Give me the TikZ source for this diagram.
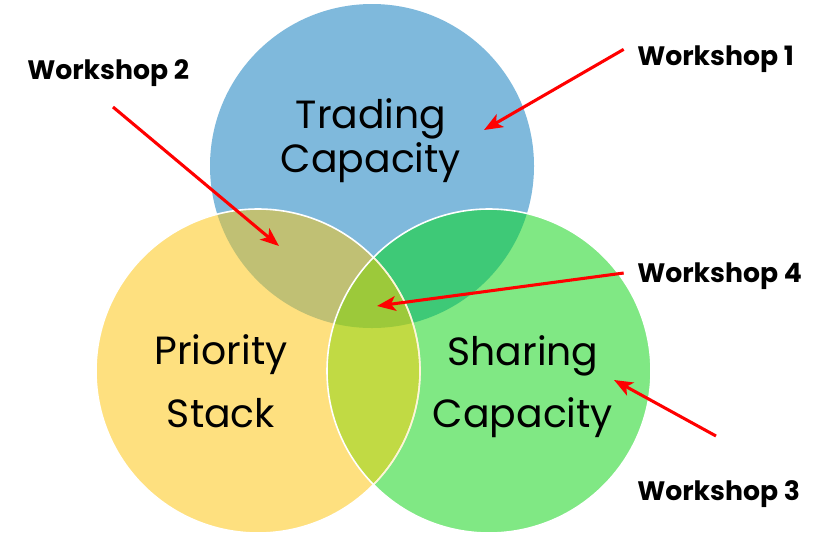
\documentclass[tikz,border=0pt]{standalone}
\usepackage{fontspec}
\setmainfont{Poppins}
\usetikzlibrary{arrows.meta}

\definecolor{tradeblue}{HTML}{7FB9DC}
\definecolor{prioyellow}{HTML}{FEE07F}
\definecolor{sharegreen}{HTML}{80E884}
\definecolor{tradeprio}{HTML}{C0C074}
\definecolor{tradeshare}{HTML}{3EC977}
\definecolor{prioshare}{HTML}{C1DA44}
\definecolor{allthree}{HTML}{9CC93A}

\begin{document}
\begin{tikzpicture}[x=0.75pt,y=-0.75pt
		,area/.style={font=\fontsize{29.5}{34}\selectfont, anchor=base}
		,wlabel/.style={font=\bfseries\fontsize{20}{24}\selectfont, anchor=base west, inner sep=0pt}
		,pointer/.style={draw=red, line width=2.3pt, -{Stealth[length=14pt,width=11pt,inset=3.5pt]}}
		,rim/.style={draw=white, line width=1.2pt}
	]
	\useasboundingbox (0,0) rectangle (830,533);
	\def\rad{162}
	\coordinate (t) at (372,166);
	\coordinate (p) at (258,371);
	\coordinate (s) at (489,371);

	% the three sets
	\fill[tradeblue] (t) circle (\rad);
	\fill[prioyellow] (p) circle (\rad);
	\fill[sharegreen] (s) circle (\rad);
	\begin{scope}
		\clip (t) circle (\rad);
		\fill[tradeprio] (p) circle (\rad);
		\fill[tradeshare] (s) circle (\rad);
	\end{scope}
	\begin{scope}
		\clip (p) circle (\rad);
		\fill[prioshare] (s) circle (\rad);
		\clip (t) circle (\rad);
		\fill[allthree] (s) circle (\rad);
	\end{scope}
	% borders
	\draw[rim] (p) circle (\rad);
	\begin{scope}
		\clip (s) circle (\rad);
		\draw[rim, draw=prioyellow!45!white, opacity=.7] (p) circle (\rad);
	\end{scope}
	\draw[rim] (s) circle (\rad);

	% set names
	\node[area] (trading) at (371,128) {Trading};
	\node[area] (tradecap) at (371,172) {Capacity};
	\node[area] (priority) at (221,364) {Priority};
	\node[area] (stack) at (221,427) {Stack};
	\node[area] (sharing) at (523,365) {Sharing};
	\node[area] (sharecap) at (523,427) {Capacity};

	% workshops
	\node[wlabel] (w1) at (637,65) {Workshop 1};
	\node[wlabel] (w2) at (27,79) {Workshop 2};
	\node[wlabel] (w4) at (637,282) {Workshop 4};
	\node[wlabel] (w3) at (637,500) {Workshop 3};

	\coordinate (w1tip) at (484,130);
	\coordinate (w2tail) at (113,107);
	\coordinate (w2tip) at (279,246);
	\coordinate (w4tip) at (377,306);
	\coordinate (w3tail) at (716,436);
	\coordinate (w3tip) at (614,380);

	\draw[pointer] ([xshift=-10pt,yshift=7pt]w1.west) -- (w1tip);
	\draw[pointer] (w2tail) -- (w2tip);
	\draw[pointer] ([xshift=-10pt,yshift=2pt]w4.west) -- (w4tip);
	\draw[pointer] (w3tail) -- (w3tip);
\end{tikzpicture}
\end{document}
